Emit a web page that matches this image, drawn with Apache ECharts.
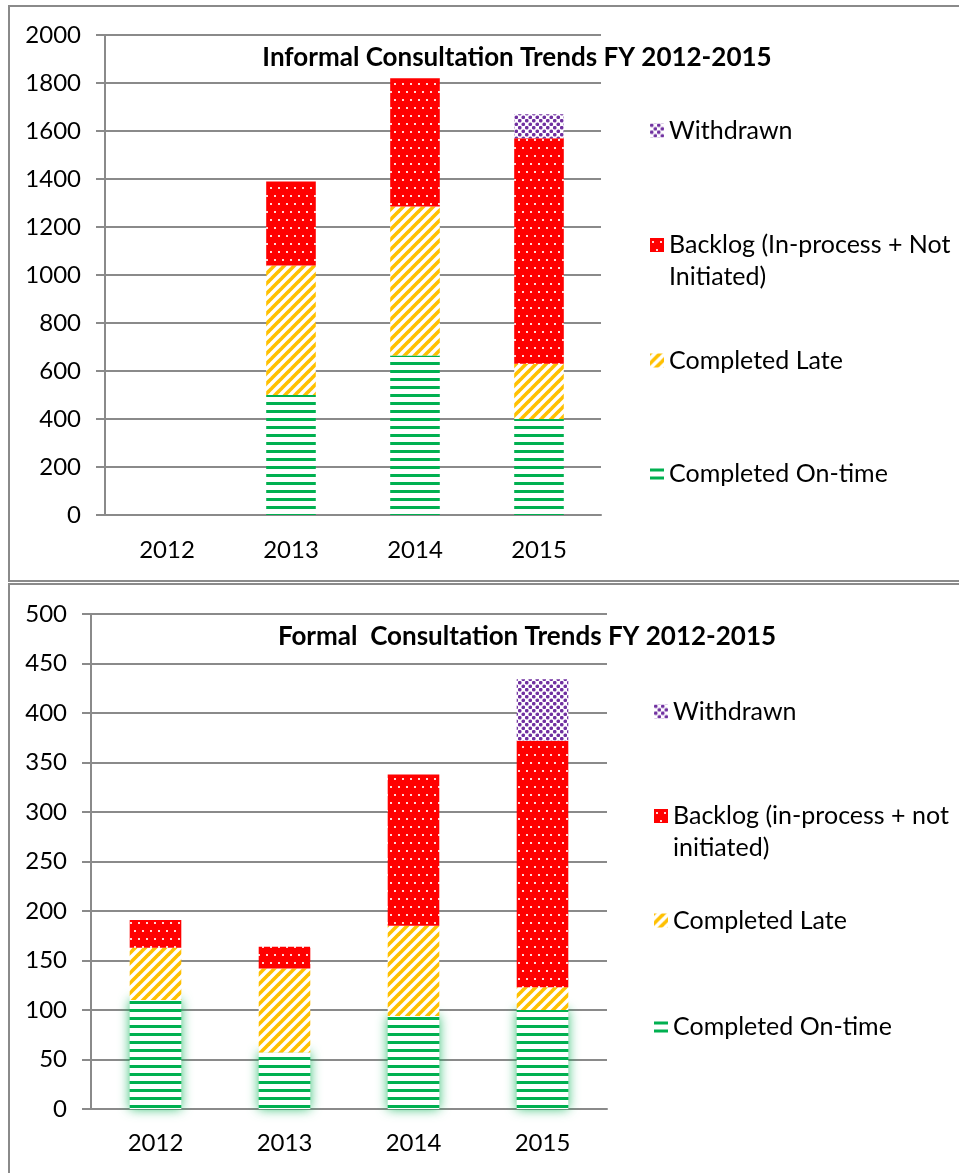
<!DOCTYPE html>
<html>
<head>
<meta charset="utf-8">
<title>Consultation Trends FY 2012-2015</title>
<script src="https://cdn.jsdelivr.net/npm/echarts@6/dist/echarts.min.js"></script>
<style>
  body { margin: 0; width: 959px; height: 1173px; overflow: hidden; background: #fff; position: relative; }
  .box { position: absolute; border: 2px solid #8a8a8a; box-sizing: border-box; }
  .chart { position: absolute; left: 0; width: 959px; }
</style>
</head>
<body>
<div class="box" style="left: 8px; top: 5px; width: 1000px; height: 577px;"></div>
<div class="box" style="left: 8px; top: 583px; width: 1000px; height: 620px;"></div>
<div id="informal" class="chart" style="top: 0; height: 583px;"></div>
<div id="formal" class="chart" style="top: 583px; height: 590px;"></div>

<script>
// categories
const years = ['2012', '2013', '2014', '2015'];

// informal consultations (top chart)
const informalOnTime = [0, 500, 665, 400];
const informalLate = [0, 540, 620, 230];
const informalBacklog = [0, 350, 535, 940];
const informalWithdrawn = [0, 0, 0, 100];
const informalAxis = { max: 2000, step: 200 };

// formal consultations (bottom chart)
const formalOnTime = [110, 57, 94, 100];
const formalLate = [53, 85, 91, 23];
const formalBacklog = [28, 22, 153, 249];
const formalWithdrawn = [0, 0, 0, 62];
const formalAxis = { max: 500, step: 50 };

const FONT = 'Lato, "Open Sans", sans-serif';
const GRID_GRAY = '#8a8a8a';

// small canvas tiles used as pattern fills (like the Excel pattern fills)
function makeTile(w, h, draw) {
  const c = document.createElement('canvas');
  c.width = w;
  c.height = h;
  draw(c.getContext('2d'), w, h);
  return { image: c, repeat: 'repeat' };
}

const greenFill = makeTile(8, 8, (ctx) => {
  ctx.fillStyle = '#fff';
  ctx.fillRect(0, 0, 8, 8);
  ctx.fillStyle = '#00b050';
  ctx.fillRect(0, 2, 8, 3);
});

const yellowFill = makeTile(10, 10, (ctx) => {
  ctx.fillStyle = '#fff';
  ctx.fillRect(0, 0, 10, 10);
  ctx.strokeStyle = '#ffc000';
  ctx.lineWidth = 3.6;
  [0, 10, 20].forEach(k => {
    ctx.beginPath();
    ctx.moveTo(k - 12, 12);
    ctx.lineTo(k + 2, -2);
    ctx.stroke();
  });
});

const redFill = makeTile(8, 16, (ctx) => {
  ctx.fillStyle = '#ff0000';
  ctx.fillRect(0, 0, 8, 16);
  ctx.fillStyle = '#ffd6d6';
  ctx.fillRect(2, 3, 2, 2);
  ctx.fillRect(6, 11, 2, 2);
});

const purpleFill = makeTile(7, 7, (ctx) => {
  ctx.fillStyle = '#fff';
  ctx.fillRect(0, 0, 7, 7);
  ctx.fillStyle = '#7030a0';
  ctx.beginPath(); ctx.arc(1.75, 1.75, 1.85, 0, Math.PI * 2); ctx.fill();
  ctx.beginPath(); ctx.arc(5.25, 5.25, 1.85, 0, Math.PI * 2); ctx.fill();
});

function barSeries(name, data, fill, extraStyle) {
  return {
    name: name,
    type: 'bar',
    stack: 'total',
    barWidth: '40%',
    data: data,
    itemStyle: Object.assign({ color: fill }, extraStyle || {}),
    emphasis: { disabled: true }
  };
}

// one legend box per entry so each can sit where Excel put it
function legendItem(name, left, top, twoLines) {
  const textStyle = { fontSize: 25, fontFamily: FONT, color: '#000', lineHeight: 25 };
  if (twoLines) textStyle.lineHeight = 32;
  return {
    data: [name],
    left: left,
    top: top,
    padding: 0,
    orient: 'vertical',
    icon: 'rect',
    itemWidth: 14,
    itemHeight: 14,
    selectedMode: false,
    textStyle: textStyle,
    // leading empty line keeps the icon level with the first text line
    formatter: (n) => twoLines ? '\n' + n.replace(/ (initiated\))$/i, '\n$1') : n
  };
}

function valueAxis(axis) {
  return {
    type: 'value',
    min: 0,
    max: axis.max,
    interval: axis.step,
    axisLine: { show: true, lineStyle: { color: GRID_GRAY, width: 2 } },
    axisTick: { show: true, length: 9, lineStyle: { color: GRID_GRAY, width: 2 } },
    splitLine: { lineStyle: { color: GRID_GRAY, width: 2 } },
    axisLabel: {
      margin: 24, fontSize: 24, fontFamily: FONT, color: '#000',
      formatter: (v) => String(v)
    }
  };
}

function categoryAxis(margin) {
  return {
    type: 'category',
    data: years,
    axisLine: { lineStyle: { color: GRID_GRAY, width: 2 } },
    axisTick: { length: 8, lineStyle: { color: GRID_GRAY, width: 2 } },
    axisLabel: { margin: margin, fontSize: 24, fontFamily: FONT, color: '#000' }
  };
}

function titleAt(text, centerX, top) {
  return {
    text: text,
    left: centerX,
    top: top,
    textAlign: 'center',
    padding: 0,
    textStyle: { fontSize: 26, fontWeight: 'bold', fontFamily: FONT, color: '#000' }
  };
}

// top chart: informal
const informalChart = echarts.init(document.getElementById('informal'));
informalChart.setOption({
  animation: false,
  title: titleAt('Informal Consultation Trends FY 2012-2015', 517, 45),
  grid: { left: 105, top: 35, width: 496, height: 480 },
  xAxis: categoryAxis(23),
  yAxis: valueAxis(informalAxis),
  legend: [
    legendItem('Withdrawn', 650, 118),
    legendItem('Backlog (In-process + Not Initiated)', 650, 197, true),
    legendItem('Completed Late', 650, 348),
    legendItem('Completed On-time', 650, 461)
  ],
  series: [
    barSeries('Completed On-time', informalOnTime, greenFill),
    barSeries('Completed Late', informalLate, yellowFill),
    barSeries('Backlog (In-process + Not Initiated)', informalBacklog, redFill),
    barSeries('Withdrawn', informalWithdrawn, purpleFill)
  ]
});

// bottom chart: formal
const formalChart = echarts.init(document.getElementById('formal'));
formalChart.setOption({
  animation: false,
  title: titleAt('Formal  Consultation Trends FY 2012-2015', 527, 41),
  grid: { left: 91, top: 31, width: 516, height: 495 },
  xAxis: categoryAxis(22),
  yAxis: valueAxis(formalAxis),
  legend: [
    legendItem('Withdrawn', 654, 116),
    legendItem('Backlog (in-process + not initiated)', 654, 185, true),
    legendItem('Completed Late', 654, 325),
    legendItem('Completed On-time', 654, 431)
  ],
  series: [
    barSeries('Completed On-time', formalOnTime, greenFill,
      { shadowBlur: 12, shadowColor: 'rgba(0, 176, 80, 0.8)' }),
    barSeries('Completed Late', formalLate, yellowFill),
    barSeries('Backlog (in-process + not initiated)', formalBacklog, redFill),
    barSeries('Withdrawn', formalWithdrawn, purpleFill)
  ]
});
</script>
</body>
</html>
